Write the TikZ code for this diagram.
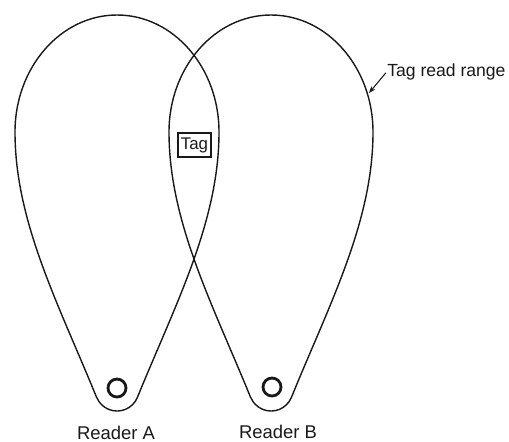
\documentclass[tikz,border=0pt]{standalone}
\usepackage{fontspec}
\setmainfont{Liberation Sans}
\usetikzlibrary{arrows.meta}
\begin{document}
\begin{tikzpicture}[x=0.02cm, y=-0.02cm, lobe/.style={line width=0.8pt, rdInk}, antenna/.style={circle, draw=rdInk, line width=1.6pt, inner sep=0pt, minimum size=0.36cm}, tagbox/.style={draw=rdInk, line width=0.6pt, inner sep=0pt, minimum width=0.66cm, minimum height=0.48cm, font=\fontsize{9.6}{11}\selectfont}, label/.style={font=\fontsize{10.5}{12}\selectfont, text=rdInk, inner sep=0pt}, pointer/.style={-{Stealth[length=4pt, width=3pt]}, line width=0.6pt, rdInk, shorten <=1pt}, every node/.style={text=rdInk}]
\definecolor{rdInk}{rgb}{0.1,0.1,0.1}
\useasboundingbox (0,0) rectangle (509,441);
% read range of reader A
\draw[lobe] (96.6,397.4) .. controls (59,305) and (15,222) .. (15,132)
  .. controls (15,67.4) and (60.7,15) .. (117,15)
  .. controls (173.3,15) and (219,67.4) .. (219,132)
  .. controls (219,222) and (175,305) .. (137.4,397.4)
  arc[start angle=22.4, end angle=157.6, radius=22] -- cycle;
% read range of reader B
\draw[lobe] (250.6,397.4) .. controls (213,305) and (169,222) .. (169,132)
  .. controls (169,67.4) and (214.7,15) .. (271,15)
  .. controls (327.3,15) and (373,67.4) .. (373,132)
  .. controls (373,222) and (329,305) .. (291.4,397.4)
  arc[start angle=22.4, end angle=157.6, radius=22] -- cycle;
\node[antenna] (readerA) at (117,388) {};
\node[antenna] (readerB) at (272,387) {};
\node[label, anchor=base] (nameA) at (116,439) {Reader A};
\node[label, anchor=base] (nameB) at (278,438) {Reader B};
\node[tagbox] (tag) at (194.5,145) {Tag};
\node[label, font=\normalsize, anchor=base west] (range) at (387,76) {Tag read range};
\coordinate (rim) at (369,93);
\draw[pointer] (range.west) -- (rim);
\end{tikzpicture}
\end{document}
